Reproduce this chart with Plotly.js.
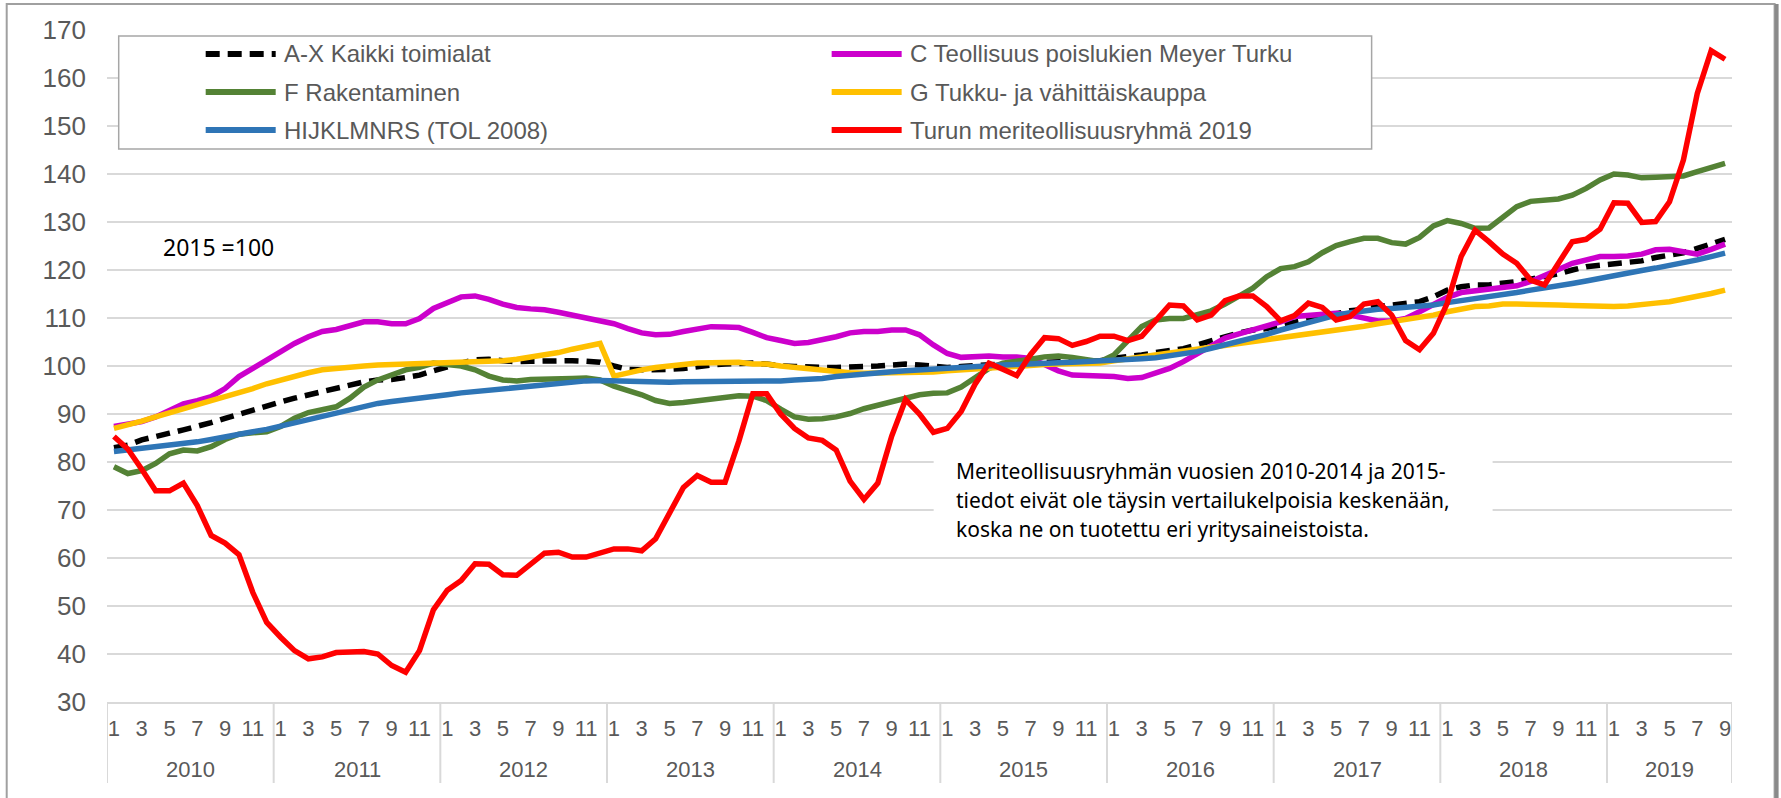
<!DOCTYPE html>
<html>
<head>
<meta charset="utf-8">
<script src="https://cdn.plot.ly/plotly-3.0.1.min.js"></script>
<style>
  html, body { margin: 0; padding: 0; background: #ffffff; }
  #chart { width: 1781px; height: 798px; }
</style>
</head>
<body>
<div id="chart"></div>
<script>
// ---------------- DATA ----------------
const years = [2010, 2011, 2012, 2013, 2014, 2015, 2016, 2017, 2018, 2019];
const monthsInYear = [12, 12, 12, 12, 12, 12, 12, 12, 12, 9];
const shownMonths = [1, 3, 5, 7, 9, 11];

const seriesNames = [
  "A-X Kaikki toimialat",
  "C Teollisuus poislukien Meyer Turku",
  "F Rakentaminen",
  "G Tukku- ja vähittäiskauppa",
  "HIJKLMNRS (TOL 2008)",
  "Turun meriteollisuusryhmä 2019"
];

const seriesAX = [
  83.0, 83.5, 84.6, 85.4, 86.0, 86.7, 87.4, 88.2, 89.1, 90.0, 90.8, 91.7,
  92.5, 93.3, 94.0, 94.7, 95.3, 96.0, 96.7, 97.1, 97.2, 97.6, 98.1, 99.0,
  99.9, 100.6, 101.3, 101.4, 101.1, 100.9, 101.0, 101.1, 101.1, 101.1, 101.0, 100.8,
  100.0, 99.3, 99.2, 99.2, 99.3, 99.5, 99.9, 100.2, 100.4, 100.6, 100.6, 100.4,
  100.0, 99.9, 99.7, 99.7, 99.7, 99.7, 99.9, 100.0, 100.2, 100.4, 100.2, 99.9,
  99.7, 99.9, 100.0, 100.2, 100.4, 100.6, 100.7, 100.8, 100.9, 100.9, 100.9, 101.1,
  101.6, 101.9, 102.3, 102.8, 103.2, 103.6, 104.4, 105.3, 106.1, 106.9, 107.5, 107.8,
  108.5, 109.2, 109.7, 110.3, 111.0, 111.5, 111.8, 112.4, 112.7, 113.1, 113.4, 114.4,
  115.8, 116.5, 116.9, 116.9, 117.2, 117.6, 118.1, 118.6, 119.2, 120.0, 120.7, 121.0,
  121.25, 121.5, 121.9, 122.6, 123.1, 123.6, 124.5, 125.4, 126.4
];

const seriesC = [
  87.4, 87.9, 88.4, 89.4, 90.8, 92.1, 92.8, 93.6, 95.3, 97.8, 99.5, 101.3,
  103.0, 104.7, 106.1, 107.2, 107.6, 108.3, 109.2, 109.2, 108.8, 108.8, 109.9, 112.0,
  113.2, 114.4, 114.6, 113.9, 112.9, 112.2, 111.9, 111.7, 111.2, 110.6, 110.1, 109.6,
  108.8, 107.8, 106.9, 106.5, 106.6, 107.2, 107.7, 108.2, 108.1, 108.0, 107.0, 105.9,
  105.3, 104.7, 104.9, 105.4, 106.1, 106.9, 107.2, 107.2, 107.5, 107.5, 106.5, 104.4,
  102.6, 101.8, 101.9, 102.1, 101.9, 101.9, 101.6, 100.2, 99.0, 98.1, 97.9, 97.9,
  97.8, 97.4, 97.6, 98.5, 99.5, 100.9, 102.6, 104.4, 105.8, 106.7, 107.5, 108.3,
  109.2, 110.3, 110.6, 110.8, 111.0, 110.6, 109.9, 109.4, 109.4, 109.9, 111.3, 112.7,
  114.3, 115.3, 115.7, 116.0, 116.4, 116.7, 117.6, 119.0, 120.1, 121.4, 122.2, 122.8,
  122.8, 122.9, 123.3, 124.2, 124.3, 123.8, 123.3, 124.3, 125.4
];

const seriesF = [
  79.0, 77.6, 78.2, 79.7, 81.7, 82.5, 82.3, 83.2, 84.7, 85.8, 86.1, 86.3,
  87.4, 89.1, 90.3, 90.8, 91.5, 93.3, 95.6, 97.1, 98.3, 99.2, 99.7, 100.6,
  100.3, 100.0, 99.2, 97.9, 97.1, 96.9, 97.2, 97.2, 97.2, 97.4, 97.5, 97.1,
  95.8, 95.0, 94.0, 92.8, 92.2, 92.4, 92.8, 93.1, 93.6, 93.8, 93.7, 92.8,
  91.0, 89.4, 88.9, 89.0, 89.4, 90.1, 91.1, 91.8, 92.6, 93.3, 94.0, 94.3,
  94.4, 95.6, 97.4, 99.5, 100.6, 100.9, 101.4, 101.9, 102.1, 101.8, 101.3, 100.9,
  102.3, 105.4, 108.2, 109.6, 109.9, 109.9, 110.6, 111.5, 112.9, 114.4, 116.2, 118.6,
  120.3, 120.7, 121.7, 123.6, 125.1, 125.9, 126.6, 126.6, 125.7, 125.4, 126.8, 129.2,
  130.3, 129.7, 128.7, 128.75, 130.8, 133.2, 134.3, 134.6, 134.8, 135.6, 137.0, 138.75,
  140.0, 139.8, 139.2, 139.3, 139.4, 139.6, 140.5, 141.3, 142.2
];

const seriesG = [
  87.0, 87.7, 88.5, 89.4, 90.3, 91.2, 91.9, 92.8, 93.6, 94.4, 95.3, 96.3,
  97.1, 97.9, 98.6, 99.2, 99.5, 99.9, 100.0, 100.2, 100.3, 100.5, 100.6, 100.6,
  100.6, 100.7, 100.8, 101.0, 101.1, 101.4, 101.8, 102.3, 102.8, 103.5, 104.0, 104.7,
  97.9, 98.6, 99.2, 99.7, 100.1, 100.3, 100.6, 100.7, 100.8, 100.8, 100.4, 100.4,
  100.0, 99.7, 99.4, 99.2, 98.8, 98.6, 98.5, 98.5, 98.5, 98.5, 98.6, 98.75,
  99.0, 99.2, 99.4, 99.7, 99.9, 100.0, 100.1, 100.3, 100.4, 100.4, 100.6, 100.6,
  101.1, 101.5, 101.8, 102.2, 102.5, 102.9, 103.4, 103.9, 104.3, 104.7, 105.1, 105.5,
  105.9, 106.3, 106.7, 107.1, 107.5, 107.9, 108.3, 108.8, 109.2, 109.6, 110.0, 110.6,
  111.3, 111.8, 112.4, 112.5, 112.9, 112.9, 112.9, 112.85, 112.7, 112.6, 112.5, 112.4,
  112.4, 112.5, 112.7, 113.1, 113.4, 113.9, 114.4, 115.1, 115.8
];

const seriesHIJ = [
  82.2, 82.5, 82.8, 83.2, 83.5, 83.9, 84.2, 84.7, 85.3, 85.8, 86.3, 86.8,
  87.5, 88.1, 88.8, 89.6, 90.3, 91.0, 91.7, 92.2, 92.6, 92.9, 93.2, 93.6,
  94.0, 94.4, 94.7, 95.0, 95.3, 95.6, 95.8, 96.1, 96.4, 96.7, 96.9, 97.0,
  96.9, 96.8, 96.7, 96.6, 96.6, 96.7, 96.7, 96.7, 96.8, 96.8, 96.8, 96.9,
  96.9, 97.1, 97.2, 97.4, 97.8, 98.1, 98.3, 98.6, 98.8, 99.0, 99.2, 99.4,
  99.5, 99.7, 99.9, 100.0, 100.2, 100.3, 100.5, 100.6, 100.7, 100.8, 100.9, 101.0,
  101.1, 101.25, 101.5, 101.7, 102.1, 102.4, 103.0, 103.7, 104.4, 105.1, 105.8, 106.6,
  107.5, 108.3, 109.2, 109.9, 110.6, 111.1, 111.5, 111.8, 112.0, 112.2, 112.3, 112.7,
  113.2, 113.6, 113.9, 114.3, 114.8, 115.3, 115.8, 116.2, 116.7, 117.2, 117.7, 118.3,
  118.9, 119.4, 119.9, 120.4, 120.9, 121.5, 122.1, 122.8, 123.5
];

const seriesTurku = [
  85.3, 82.7, 78.5, 74.0, 74.0, 75.6, 70.9, 64.7, 63.1, 60.7, 52.8, 46.6,
  43.5, 40.7, 39.0, 39.4, 40.3, 40.3, 40.5, 40.0, 37.6, 36.2, 40.7, 49.2,
  53.3, 55.3, 58.8, 58.7, 56.5, 56.4, 58.8, 61.0, 61.2, 60.2, 60.2, 61.2,
  61.9, 61.9, 61.5, 64.0, 69.5, 74.7, 77.2, 75.8, 75.8, 84.4, 94.2, 94.2,
  90.0, 87.0, 85.0, 84.5, 82.5, 76.0, 72.2, 75.6, 85.4, 93.0, 90.0, 86.2,
  87.0, 90.5, 96.2, 100.6, 99.3, 98.0, 102.4, 105.9, 105.7, 104.3, 105.1, 106.2,
  106.2, 105.3, 106.2, 109.6, 112.7, 112.5, 109.6, 110.6, 113.6, 114.6, 114.6, 112.4,
  109.4, 110.5, 113.1, 112.2, 109.6, 110.3, 112.9, 113.4, 110.6, 105.3, 103.4, 106.8,
  113.1, 122.8, 128.3, 125.9, 123.3, 121.4, 117.9, 116.9, 121.4, 125.9, 126.4, 128.5,
  134.0, 133.9, 129.9, 130.1, 134.2, 142.9, 156.8, 165.7, 163.9
];

const noteBase = "2015 =100";
const noteLines = [
  "Meriteollisuusryhmän vuosien 2010-2014 ja 2015-",
  "tiedot eivät ole täysin vertailukelpoisia keskenään,",
  "koska ne on tuotettu eri yritysaineistoista."
];

// ---------------- STYLES ----------------
const styles = [
  { color: "#000000", dash: "14px,8px" },
  { color: "#CC00CC", dash: "solid" },
  { color: "#548235", dash: "solid" },
  { color: "#FFC000", dash: "solid" },
  { color: "#2E75B6", dash: "solid" },
  { color: "#FF0000", dash: "solid" }
];
const allSeries = [seriesAX, seriesC, seriesF, seriesG, seriesHIJ, seriesTurku];

// x categories: month index
const monthIdx = [];
const monthNum = [];
years.forEach((y, k) => {
  for (let m = 1; m <= monthsInYear[k]; m++) { monthIdx.push(monthIdx.length); monthNum.push(m); }
});
const nMonths = monthIdx.length;

const traces = allSeries.map((s, k) => ({
  type: "scatter", mode: "lines",
  x: monthIdx, y: s, name: seriesNames[k],
  line: { color: styles[k].color, width: 5.5, dash: styles[k].dash },
  hoverinfo: "x+y+name"
}));

// ---------------- LAYOUT GEOMETRY ----------------
const W = 1781, H = 798;
const L = 107.3, R = 48.6, T = 30, B = 96;
const PW = W - L - R, PH = H - T - B;
const px = v => (v - L) / PW;          // pixel -> paper x
const py = v => (H - B - v) / PH;      // pixel -> paper y

const FONT = "Liberation Sans, Arial, sans-serif";
const NOTEFONT = "Noto Sans, Open Sans, sans-serif";
const GRAY = "#595959";

const tickvals = [], ticktext = [];
monthIdx.forEach((i) => { if (shownMonths.includes(monthNum[i])) { tickvals.push(i); ticktext.push(String(monthNum[i])); } });

const shapes = [];
const annotations = [];

// year separators and labels
let start = 0;
years.forEach((y, k) => {
  const s = start - 0.5, e = start + monthsInYear[k] - 0.5;
  shapes.push({ type: "line", xref: "x", yref: "paper", x0: s, x1: s, y0: 0, y1: py(783),
    line: { color: "#d9d9d9", width: 2 }, layer: "above" });
  annotations.push({ xref: "x", yref: "paper", x: (s + e) / 2, y: py(769), text: String(y),
    showarrow: false, xanchor: "center", yanchor: "middle",
    font: { family: FONT, size: 22, color: GRAY } });
  start += monthsInYear[k];
});
shapes.push({ type: "line", xref: "x", yref: "paper", x0: nMonths - 0.5, x1: nMonths - 0.5, y0: 0, y1: py(783),
  line: { color: "#d9d9d9", width: 2 }, layer: "above" });

// legend box (drawn manually)
shapes.push({ type: "rect", xref: "paper", yref: "paper", x0: px(119), x1: px(1372), y0: py(149), y1: py(36),
  line: { color: "#a6a6a6", width: 1.5 }, fillcolor: "#ffffff", layer: "above" });
seriesNames.forEach((name, k) => {
  const col = k % 2, row = Math.floor(k / 2);
  const x0 = [206, 832][col], x1 = x0 + 70, yc = 54 + 38 * row;
  shapes.push({ type: "line", xref: "paper", yref: "paper", x0: px(x0), x1: px(x1), y0: py(yc), y1: py(yc),
    line: { color: styles[k].color, width: 6, dash: styles[k].dash }, layer: "above" });
  annotations.push({ xref: "paper", yref: "paper", x: px(x1 + 6), y: py(yc), text: name,
    showarrow: false, xanchor: "left", yanchor: "middle",
    font: { family: FONT, size: 24, color: GRAY } });
});

// note box
shapes.push({ type: "rect", xref: "paper", yref: "paper", x0: px(934), x1: px(1493), y0: py(548), y1: py(442),
  line: { width: 0 }, fillcolor: "#ffffff", layer: "above" });
noteLines.forEach((t, k) => {
  annotations.push({ xref: "paper", yref: "paper", x: px(954), y: py(471 + 29 * k), text: t,
    showarrow: false, xanchor: "left", yanchor: "middle",
    font: { family: NOTEFONT, size: 21, color: "#000000" } });
});
annotations.push({ xref: "paper", yref: "paper", x: px(161), y: py(247), text: noteBase,
  showarrow: false, xanchor: "left", yanchor: "middle",
  font: { family: NOTEFONT, size: 23, color: "#000000" } });

// outer frame
shapes.push({ type: "rect", xref: "paper", yref: "paper", x0: px(7), x1: px(1775), y0: py(820), y1: py(4),
  line: { color: "#a0a0a0", width: 2 }, fillcolor: "rgba(0,0,0,0)", layer: "above" });
shapes.push({ type: "line", xref: "paper", yref: "paper", x0: px(1777), x1: px(1777), y0: py(820), y1: py(4),
  line: { color: "#8a8a8a", width: 4 }, layer: "above" });

const layout = {
  width: W, height: H,
  margin: { l: L, r: R, t: T, b: B, pad: 0 },
  paper_bgcolor: "#ffffff", plot_bgcolor: "#ffffff",
  showlegend: false,
  xaxis: {
    range: [-0.5, nMonths - 0.5],
    tickmode: "array", tickvals: tickvals, ticktext: ticktext,
    tickfont: { family: FONT, size: 22, color: GRAY },
    ticks: "", ticklabelstandoff: 6,
    showgrid: false, zeroline: false,
    showline: true, linecolor: "#d9d9d9", linewidth: 2,
    fixedrange: true
  },
  yaxis: {
    range: [30, 170], tick0: 30, dtick: 10,
    tickfont: { family: FONT, size: 26, color: GRAY },
    ticks: "", ticklabelstandoff: 20,
    showgrid: true, gridcolor: "#d9d9d9", gridwidth: 2,
    zeroline: false, showline: false, fixedrange: true
  },
  shapes: shapes,
  annotations: annotations
};

Plotly.newPlot("chart", traces, layout, { displayModeBar: false, staticPlot: true });
</script>
</body>
</html>
